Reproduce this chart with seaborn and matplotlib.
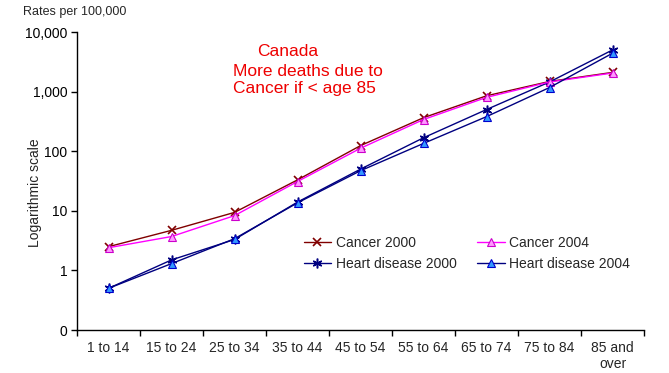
import matplotlib
matplotlib.use("Agg")
import matplotlib.pyplot as plt
import seaborn as sns
import pandas as pd
from matplotlib.ticker import FixedLocator, NullFormatter

ages = ["1 to 14", "15 to 24", "25 to 34", "35 to 44", "45 to 54",
        "55 to 64", "65 to 74", "75 to 84", "85 and\nover"]
cancer_2000 = [2.5, 4.7, 9.4, 33, 124, 365, 850, 1480, 2100]
cancer_2004 = [2.4, 3.7, 8.3, 31, 112, 340, 800, 1450, 2050]
heart_2000 = [0.5, 1.5, 3.3, 14, 50, 168, 500, 1450, 5000]
heart_2004 = [0.5, 1.3, 3.4, 13.6, 47, 135, 380, 1170, 4400]
y_ticks = [0.1, 1, 10, 100, 1000, 10000]
y_labels = ["0", "1", "10", "100", "1,000", "10,000"]

series = {
    "Cancer 2000": cancer_2000,
    "Heart disease 2000": heart_2000,
    "Cancer 2004": cancer_2004,
    "Heart disease 2004": heart_2004,
}
styles = {
    "Cancer 2000": dict(color="#800000", marker="x", markerfacecolor="#800000",
                        markeredgecolor="#800000", markersize=6, markeredgewidth=1.2),
    "Heart disease 2000": dict(color="#000080", marker=(6, 2, 0), markerfacecolor="#000080",
                               markeredgecolor="#000080", markersize=7, markeredgewidth=1.1),
    "Cancer 2004": dict(color="#FF00FF", marker="^", markerfacecolor="#FF99FF",
                        markeredgecolor="#CC00CC", markersize=6, markeredgewidth=0.8),
    "Heart disease 2004": dict(color="#000080", marker="^", markerfacecolor="#3399FF",
                               markeredgecolor="#0000CC", markersize=6, markeredgewidth=0.8),
}

df = pd.concat([pd.DataFrame({"age": ages, "rate": v, "series": k})
                for k, v in series.items()], ignore_index=True)

sns.set_style("white")
plt.rcParams["font.family"] = ["Liberation Sans", "DejaVu Sans"]

fig = plt.figure(figsize=(6.69, 3.73), dpi=100)
ax = fig.add_axes([77 / 669, 1 - 330 / 373, 567 / 669, 298 / 373])

for name in series:
    sub = df[df["series"] == name]
    sns.lineplot(data=sub, x="age", y="rate", ax=ax, label=name,
                 linewidth=1.0, **styles[name])

ax.set_yscale("log")
ax.set_ylim(0.1, 10000)
ax.set_xlim(-0.5, len(ages) - 0.5)
ax.yaxis.set_major_locator(FixedLocator(y_ticks))
ax.set_yticklabels(y_labels, fontsize=10)
ax.yaxis.set_minor_locator(FixedLocator([]))
ax.tick_params(axis="y", which="major", direction="out", length=4, width=1,
               left=True, colors="black", pad=3)

ax.xaxis.set_major_locator(FixedLocator([i - 0.5 for i in range(len(ages) + 1)]))
ax.xaxis.set_major_formatter(NullFormatter())
ax.xaxis.set_minor_locator(FixedLocator(list(range(len(ages)))))
ax.set_xticklabels(ages, minor=True, fontsize=10, va="top")
ax.tick_params(axis="x", which="major", direction="out", length=4, width=1,
               bottom=True, colors="black")
ax.tick_params(axis="x", which="minor", length=0, pad=8)

for s in ["top", "right"]:
    ax.spines[s].set_visible(False)
for s in ["left", "bottom"]:
    ax.spines[s].set_color("black")
    ax.spines[s].set_linewidth(1)

ax.set_xlabel("")
ax.set_ylabel("Logarithmic scale", fontsize=10)
ax.yaxis.set_label_coords((42 - 77) / 567, (330 - 193) / 298)
fig.text(23 / 669, 1 - 12 / 373, "Rates per 100,000", fontsize=9, va="center", ha="left")

fig.text(257 / 669, 1 - 51 / 373, "Canada", color="#EE0000", fontsize=12.5, va="center", ha="left")
fig.text(233 / 669, 1 - 71 / 373, "More deaths due to", color="#EE0000", fontsize=12.5, va="center", ha="left")
fig.text(233 / 669, 1 - 89 / 373, "Cancer if < age 85", color="#EE0000", fontsize=12.5, va="center", ha="left")

leg = ax.legend(ncol=2, frameon=False, fontsize=10, loc="upper left",
                bbox_to_anchor=((298 - 77) / 567, (330 - 230) / 298),
                handlelength=2.0, handletextpad=0.3, columnspacing=1.5,
                labelspacing=0.5, borderaxespad=0)

fig.savefig("out.png", dpi=100)
